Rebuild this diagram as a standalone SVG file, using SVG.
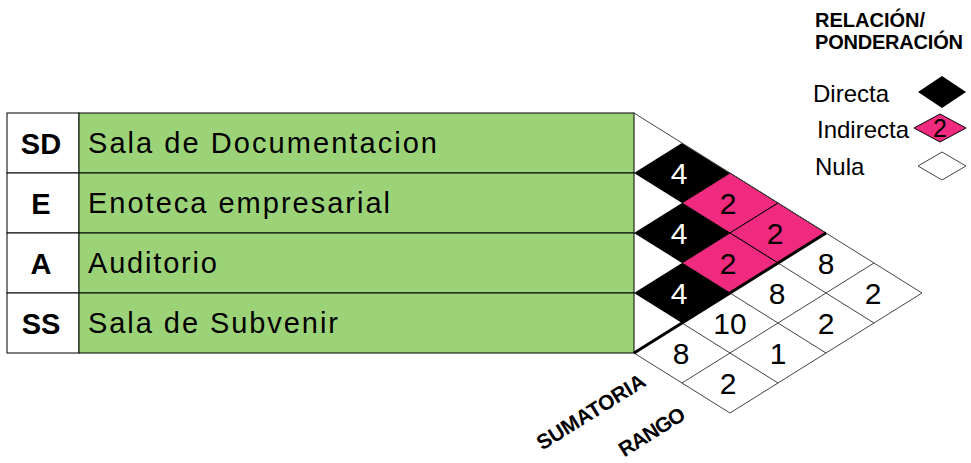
<svg xmlns="http://www.w3.org/2000/svg" width="971" height="463" viewBox="0 0 971 463">
<style>
text{font-family:"Liberation Sans",Arial,sans-serif;fill:#000}
.code{font-size:29px;font-weight:bold;text-anchor:middle}
.name{font-size:29px}
.num{font-size:30px;text-anchor:middle}
.wnum{font-size:30px;text-anchor:middle;fill:#fff}
.leg{font-size:24px}
.head{font-size:20px;font-weight:bold}
.axis{font-size:21px;font-weight:bold;text-anchor:middle}
.cell{stroke:#000;stroke-width:1}
.green{fill:#9cd378}
.pink{fill:#f02a7e;stroke:#000;stroke-width:1}
.black{fill:#000}
.grid{fill:none;stroke:#444;stroke-width:1}
</style>
<rect width="971" height="463" fill="#fff"/>

<g id="row-SD">
<rect class="cell" x="7" y="113" width="72" height="60" fill="#fff"/>
<rect class="cell green" x="79" y="113" width="555" height="60"/>
<text class="code" x="41" y="154">SD</text>
<text class="name" x="88" y="153" textLength="349" lengthAdjust="spacing">Sala de Documentacion</text>
</g>
<g id="row-E">
<rect class="cell" x="7" y="173" width="72" height="60" fill="#fff"/>
<rect class="cell green" x="79" y="173" width="555" height="60"/>
<text class="code" x="41" y="214">E</text>
<text class="name" x="88" y="213" textLength="302" lengthAdjust="spacing">Enoteca empresarial</text>
</g>
<g id="row-A">
<rect class="cell" x="7" y="233" width="72" height="60" fill="#fff"/>
<rect class="cell green" x="79" y="233" width="555" height="60"/>
<text class="code" x="41" y="274">A</text>
<text class="name" x="88" y="273" textLength="129" lengthAdjust="spacing">Auditorio</text>
</g>
<g id="row-SS">
<rect class="cell" x="7" y="293" width="72" height="60" fill="#fff"/>
<rect class="cell green" x="79" y="293" width="555" height="60"/>
<text class="code" x="41" y="334">SS</text>
<text class="name" x="88" y="333" textLength="250" lengthAdjust="spacing">Sala de Subvenir</text>
</g>

<g id="matrix">
<polygon class="black" points="634,173 682,143 730,173 682,203"/>
<polygon class="black" points="634,233 682,203 730,233 682,263"/>
<polygon class="black" points="634,293 682,263 730,293 682,323"/>
<polygon class="pink" points="682,203 730,173 778,203 730,233"/>
<polygon class="pink" points="730,233 778,203 826,233 778,263"/>
<polygon class="pink" points="682,263 730,233 778,263 730,293"/>
<text class="wnum" x="679" y="184">4</text>
<text class="wnum" x="679" y="244">4</text>
<text class="wnum" x="679" y="304">4</text>
<text class="num" x="728" y="214">2</text>
<text class="num" x="775" y="244">2</text>
<text class="num" x="728" y="274">2</text>
</g>

<g id="totals">
<text class="num" x="826" y="274">8</text>
<text class="num" x="777" y="304">8</text>
<text class="num" x="730" y="334">10</text>
<text class="num" x="681" y="364">8</text>
<text class="num" x="873" y="304">2</text>
<text class="num" x="826" y="334">2</text>
<text class="num" x="778" y="364">1</text>
<text class="num" x="728" y="394">2</text>
<text class="axis" transform="translate(591,412) rotate(-32)" dy="7" textLength="124" lengthAdjust="spacing">SUMATORIA</text>
<text class="axis" transform="translate(652,432) rotate(-32)" dy="7" textLength="74" lengthAdjust="spacing">RANGO</text>
</g>

<g id="connectors">
<polyline class="grid" points="634,113 826,233 922,293 730,413 634,353"/>
<line class="grid" x1="874" y1="263" x2="682" y2="383"/>
<line class="grid" x1="778" y1="263" x2="874" y2="323"/>
<line class="grid" x1="730" y1="293" x2="826" y2="353"/>
<line class="grid" x1="682" y1="323" x2="778" y2="383"/>
<line x1="634" y1="353" x2="826" y2="233" stroke="#000" stroke-width="3"/>
</g>

<g id="legend">
<text class="head" x="815" y="27" textLength="110" lengthAdjust="spacing">RELACIÓN/</text>
<text class="head" x="815" y="49" textLength="148" lengthAdjust="spacing">PONDERACIÓN</text>
<text class="leg" x="813" y="102">Directa</text>
<polygon class="black" points="918,92 942,76 966,92 942,108"/>
<text class="leg" x="817" y="138">Indirecta</text>
<polygon class="pink" points="914,128 940,114 966,128 940,142"/>
<text x="940" y="137" font-size="25" text-anchor="middle">2</text>
<text class="leg" x="815" y="175">Nula</text>
<polygon points="918,166 942,152 966,166 942,180" fill="#fff" stroke="#444" stroke-width="1"/>
</g>
</svg>
